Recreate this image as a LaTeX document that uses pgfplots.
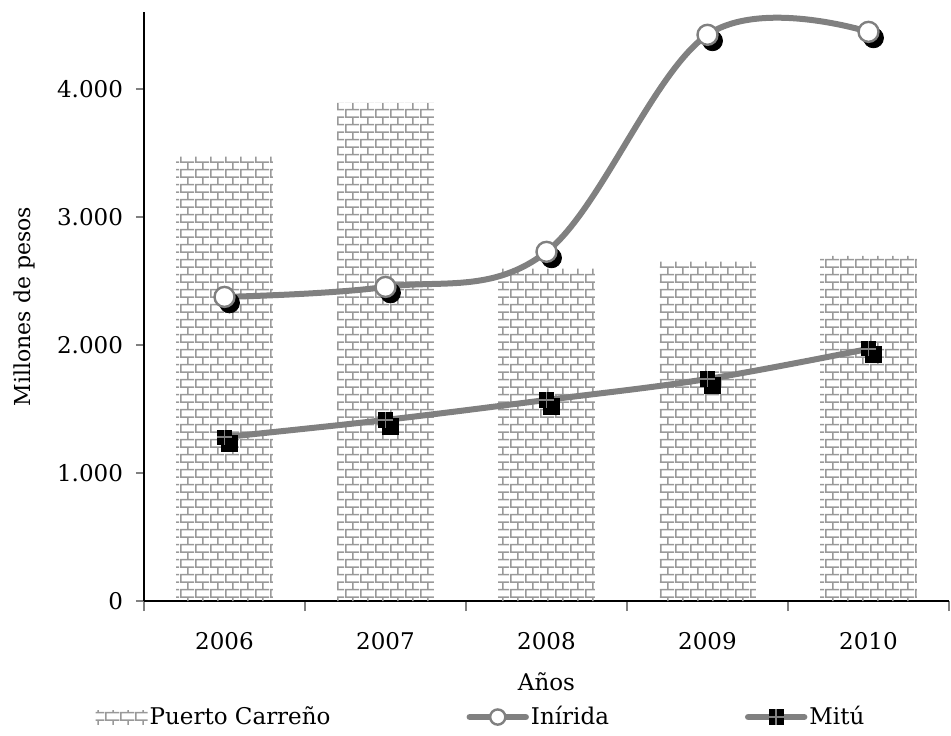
\documentclass[border=0pt]{standalone}
\usepackage{fontspec}
\setmainfont{DejaVu Serif}
\usepackage{pgfplots}
\pgfplotsset{compat=1.18}
\usetikzlibrary{patterns.meta}

% brick pattern for the bars
\pgfdeclarepattern{
  name=bricksx,
  type=uncolored,
  bottom left={\pgfpoint{0pt}{0pt}},
  top right={\pgfpoint{7.5pt}{7.7pt}},
  tile size={\pgfpoint{7.5pt}{7.7pt}},
  code={
    \pgfsetlinewidth{0.8pt}
    \pgfpathmoveto{\pgfpoint{0pt}{0.5pt}}\pgfpathlineto{\pgfpoint{7.5pt}{0.5pt}}
    \pgfpathmoveto{\pgfpoint{0pt}{4.35pt}}\pgfpathlineto{\pgfpoint{7.5pt}{4.35pt}}
    \pgfpathmoveto{\pgfpoint{0.5pt}{0.5pt}}\pgfpathlineto{\pgfpoint{0.5pt}{4.35pt}}
    \pgfpathmoveto{\pgfpoint{4.25pt}{4.35pt}}\pgfpathlineto{\pgfpoint{4.25pt}{7.7pt}}
    \pgfpathmoveto{\pgfpoint{4.25pt}{0pt}}\pgfpathlineto{\pgfpoint{4.25pt}{0.5pt}}
    \pgfusepath{stroke}
  }
}

% black square with a gray cross
\pgfdeclareplotmark{sqplus}{%
  \pgfsetfillcolor{black}%
  \pgfpathrectangle{\pgfpoint{-\pgfplotmarksize}{-\pgfplotmarksize}}{\pgfpoint{2\pgfplotmarksize}{2\pgfplotmarksize}}%
  \pgfusepathqfill
  \pgfsetstrokecolor{gray}%
  \pgfsetlinewidth{0.8pt}%
  \pgfpathmoveto{\pgfpoint{-\pgfplotmarksize}{0pt}}\pgfpathlineto{\pgfpoint{\pgfplotmarksize}{0pt}}%
  \pgfpathmoveto{\pgfpoint{0pt}{-\pgfplotmarksize}}\pgfpathlineto{\pgfpoint{0pt}{\pgfplotmarksize}}%
  \pgfusepathqstroke
}

\definecolor{linegray}{HTML}{808080}
\definecolor{brickgray}{HTML}{999999}

\begin{document}
\begin{tikzpicture}
\begin{axis}[
  scale only axis,
  width=402.5pt, height=294.5pt,
  xmin=-0.5, xmax=4.5,
  ymin=0, ymax=4600,
  axis lines*=left,
  axis line style={line width=0.9pt},
  xtick={0,1,2,3,4},
  xticklabels={2006,2007,2008,2009,2010},
  major x tick style={draw=none},
  minor xtick={-0.5,0.5,1.5,2.5,3.5,4.5},
  minor x tick style={line width=0.6pt},
  minor tick length=5pt,
  ytick={0,1000,2000,3000,4000},
  major tick length=4pt,
  tick align=outside,
  y tick style={line width=0.9pt},
  scaled y ticks=false,
  /pgf/number format/.cd, 1000 sep={.}, assume math mode=true,
  /pgfplots/.cd,
  tick label style={font=\fontsize{11.5}{13}\selectfont},
  xticklabel style={yshift=-8pt},
  yticklabel style={xshift=-3pt},
  xlabel={Años},
  ylabel={Millones de pesos},
  xlabel style={font=\fontsize{11.5}{13}\selectfont, yshift=-4.5pt},
  ylabel style={font=\fontsize{11}{13}\selectfont, yshift=4pt},
  legend columns=3,
  legend style={draw=none, fill=none, at={(axis description cs:-0.068,-0.197)}, anchor=west,
    font=\fontsize{11.5}{13}\selectfont,
    nodes={inner xsep=1pt},
    /tikz/every even column/.append style={column sep=67pt}},
  legend cell align=left,
]
\addplot[ybar, bar width=0.6, draw=none, pattern=bricksx, pattern color=brickgray,
  legend image code/.code={\fill[pattern=bricksx, pattern color=brickgray] (0pt,-3.5pt) rectangle (26pt,3.5pt);}]
  coordinates {(0,3470) (1,3890) (2,2595) (3,2650) (4,2695)};
\addlegendentry{Puerto Carreño}

% shadows
\addplot[only marks, mark=*, mark size=5pt, mark options={fill=black, draw=black, xshift=2.5pt, yshift=-3pt}, forget plot]
  coordinates {(0,2375) (1,2453) (2,2727) (3,4422) (4,4445)};
\addplot[only marks, mark=square*, mark size=4pt, mark options={fill=black, draw=black, xshift=2.5pt, yshift=-3pt}, forget plot]
  coordinates {(0,1280) (1,1414) (2,1570) (3,1734) (4,1969)};

\addplot[linegray, line width=3pt, smooth, tension=0.6, mark=*, mark size=5pt,
  mark options={fill=white, draw=linegray, line width=1.2pt},
  legend image code/.code={
    \draw[linegray, line width=3.2pt, line cap=round] (1.5pt,0pt) -- (29.5pt,0pt);
    \path plot[mark size=3.8pt] coordinates {(15.5pt,0pt)};}]
  coordinates {(0,2375) (1,2453) (2,2727) (3,4422) (4,4445)};
\addlegendentry{Inírida}

\addplot[linegray, line width=3pt, smooth, tension=0.6, mark=sqplus, mark size=3.8pt,
  legend image code/.code={
    \draw[linegray, line width=3.2pt, line cap=round] (1.5pt,0pt) -- (29.5pt,0pt);
    \path plot[mark size=3.8pt] coordinates {(15.5pt,0pt)};}]
  coordinates {(0,1280) (1,1414) (2,1570) (3,1734) (4,1969)};
\addlegendentry{Mitú}
\end{axis}
\path ([xshift=-72pt, yshift=-64.5pt]current axis.south west) ([xshift=1pt, yshift=6pt]current axis.north east);
\end{tikzpicture}
\end{document}
